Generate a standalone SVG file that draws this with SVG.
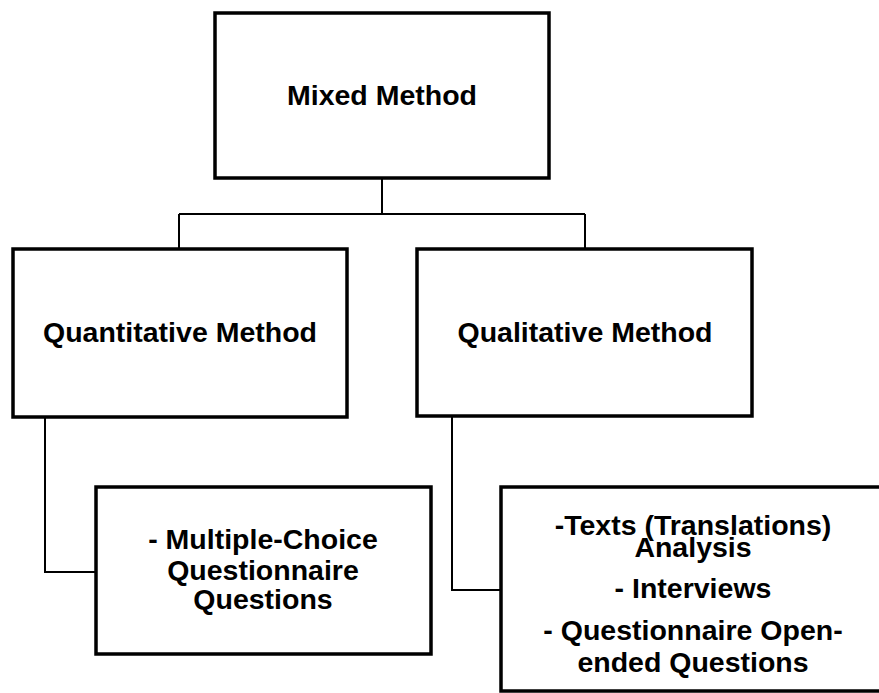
<svg xmlns="http://www.w3.org/2000/svg" width="879" height="693" viewBox="0 0 879 693">
<style>
.box{fill:#fff;stroke:#000;stroke-width:3.5}
.con{fill:none;stroke:#000;stroke-width:2}
text{font-family:"Liberation Sans",Arial,sans-serif;font-weight:bold;font-size:28.5px;fill:#000;text-anchor:middle}
</style>
<rect width="879" height="693" fill="#fff"/>
<g id="connectors">
<path class="con" d="M382 178V214M179 214H585M179 214V248M585 214V248"/>
<path class="con" d="M45 418V572H96"/>
<path class="con" d="M452 417V590H501"/>
</g>
<g id="mixed">
<rect class="box" x="215" y="13" width="334" height="165"/>
<text x="382" y="105">Mixed Method</text>
</g>
<g id="quantitative">
<rect class="box" x="13" y="249" width="334" height="168"/>
<text x="180" y="342">Quantitative Method</text>
</g>
<g id="qualitative">
<rect class="box" x="417" y="249" width="335" height="167"/>
<text x="585" y="342">Qualitative Method</text>
</g>
<g id="multiple-choice">
<rect class="box" x="96" y="487" width="335" height="167"/>
<text x="263" y="549">- Multiple-Choice</text>
<text x="263" y="580">Questionnaire</text>
<text x="263" y="609">Questions</text>
</g>
<g id="qualitative-items">
<rect class="box" x="501" y="487" width="400" height="204"/>
<text x="693" y="535">-Texts (Translations)</text>
<text x="693" y="557">Analysis</text>
<text x="693" y="598">- Interviews</text>
<text x="693" y="640">- Questionnaire Open-</text>
<text x="693" y="672">ended Questions</text>
</g>
</svg>
